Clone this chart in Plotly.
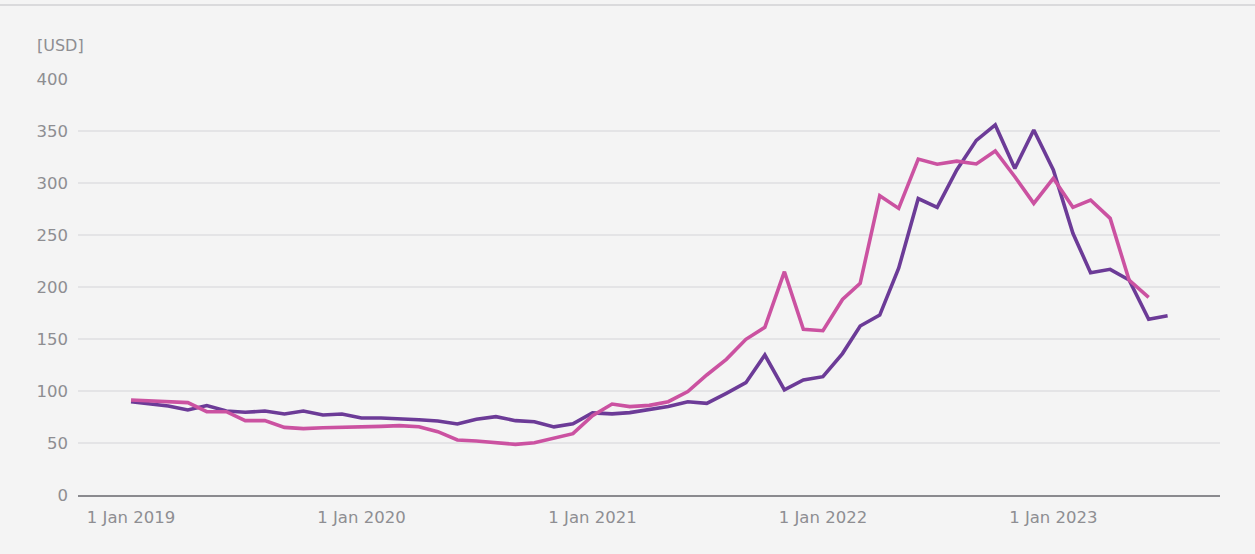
import plotly.graph_objects as go
import pandas as pd

dates_purple = pd.date_range("2019-01-01", "2023-07-01", freq="MS")
dates_pink = pd.date_range("2019-01-01", "2023-06-01", freq="MS")

purple_values = [
    89.7, 88, 85.6, 81.7, 86, 80.8, 79.5, 80.8, 77.9, 80.8, 76.9, 77.9,
    74, 74, 73.4, 72.4, 71.2, 68.3, 72.8, 75.3, 71.5, 70.5, 65.5, 68.5,
    79, 78, 79.2, 82.4, 85, 89.7, 88.1, 97.8, 108, 134.6, 101, 110.6,
    113.8, 136, 162.5, 173, 218, 285, 276.6, 312.5, 341, 355.8, 314, 351,
    312.5, 251.6, 213.8, 217, 206.7, 169, 172.4,
]
pink_values = [
    91.3, 90.4, 89.7, 88.8, 80.1, 80.1, 71.5, 71.5, 65, 63.8, 64.7, 65,
    65, 66, 66.7, 65.7, 60.9, 52.9, 51.9, 50.6, 48.7, 50.3, 54.5, 59,
    76.3, 87.5, 85, 86.2, 89.7, 99.4, 115.4, 130.4, 149.7, 161.2, 214.7, 159.3,
    158, 188, 203.5, 287.8, 275.6, 323, 318, 321, 318.3, 330.8, 306, 280.4,
    304.5, 276.6, 283.6, 266, 206.7, 190,
]

x_tick_vals = ["2019-01-01", "2020-01-01", "2021-01-01", "2022-01-01", "2023-01-01"]
x_tick_text = ["1 Jan 2019", "1 Jan 2020", "1 Jan 2021", "1 Jan 2022", "1 Jan 2023"]
y_tick_vals = [0, 50, 100, 150, 200, 250, 300, 350, 400]

fig = go.Figure()
fig.add_trace(go.Scatter(x=dates_purple, y=purple_values, mode="lines",
                         line=dict(color="#6c3b97", width=3.6), showlegend=False))
fig.add_trace(go.Scatter(x=dates_pink, y=pink_values, mode="lines",
                         line=dict(color="#cb52a1", width=3.6), showlegend=False))

font_family = "'DejaVu Sans', sans-serif"
text_color = "#8e8e92"
fig.update_layout(
    width=1255, height=554,
    paper_bgcolor="#f4f4f4", plot_bgcolor="#f4f4f4",
    margin=dict(l=78, r=35, t=79, b=59),
    font=dict(family=font_family, color=text_color, size=16),
    xaxis=dict(
        range=["2018-10-09", "2023-09-22"],
        tickvals=x_tick_vals, ticktext=x_tick_text,
        showgrid=False, zeroline=False,
        showline=True, linecolor="#8a8a8e", linewidth=1.5,
        ticks="", ticklabelstandoff=6,
        tickfont=dict(size=16.5, color=text_color),
    ),
    yaxis=dict(
        range=[0, 400], tickvals=y_tick_vals,
        showgrid=True, gridcolor="#e4e4e6", gridwidth=1.5,
        zeroline=False, showline=False, ticks="",
        ticklabelstandoff=9,
        tickfont=dict(size=16.5, color=text_color),
    ),
    shapes=[dict(type="line", xref="paper", yref="paper", x0=-0.07, x1=1.04,
                 y0=1.178, y1=1.178, line=dict(color="#d2d2d4", width=1.5))],
    annotations=[dict(text="[USD]", xref="paper", yref="paper", x=-0.038, y=1.08,
                      xanchor="left", yanchor="middle", showarrow=False,
                      font=dict(size=16, color=text_color))],
)

fig.write_html("out.html", config={"displayModeBar": False},
               post_script="document.body.style.margin='0';")
